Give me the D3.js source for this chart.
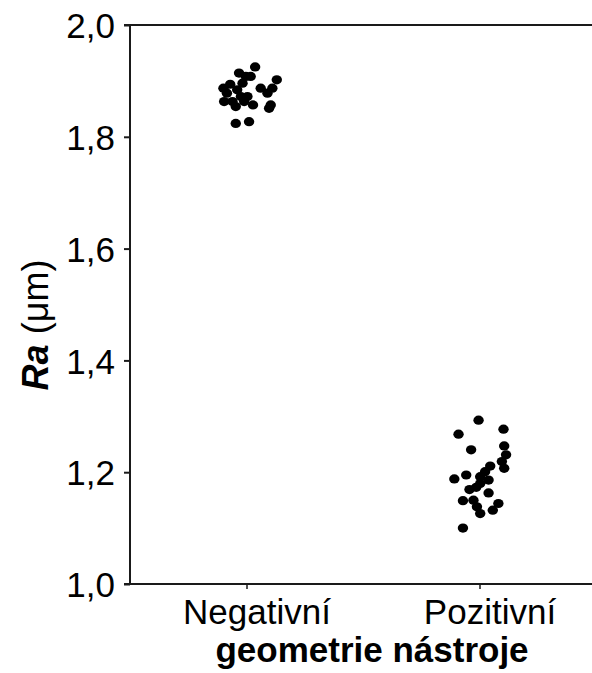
<!DOCTYPE html>
<html><head><meta charset="utf-8">
<script src="https://cdn.jsdelivr.net/npm/d3@7"></script>
<style>body{margin:0;background:#fff}svg{display:block}</style>
</head><body>
<svg id="c" width="592" height="673"></svg>
<script>
const categories = ["Negativní", "Pozitivní"];
const yTicks = [1.0, 1.2, 1.4, 1.6, 1.8, 2.0];
const negValues = [1.925,1.914,1.908,1.908,1.902,1.896,1.894,1.887,1.887,1.887,1.878,1.878,1.872,1.872,1.863,1.863,1.863,1.857,1.857,1.854,1.851,1.824,1.827,1.884];
const negJitter = [0.037,-0.032,-0.003,0.018,0.130,-0.017,-0.070,-0.099,0.061,0.111,-0.084,0.090,-0.024,0.004,-0.096,-0.060,-0.010,0.028,0.104,-0.046,0.097,-0.046,0.011,-0.040];
const posValues = [1.293,1.268,1.277,1.240,1.247,1.231,1.219,1.207,1.211,1.201,1.195,1.188,1.192,1.186,1.180,1.173,1.169,1.163,1.149,1.150,1.144,1.138,1.126,1.132,1.100];
const posJitter = [-0.004,-0.090,0.103,-0.036,0.106,0.114,0.096,0.106,0.046,0.024,-0.057,-0.108,0.003,0.039,0.003,-0.014,-0.043,0.039,-0.071,-0.026,0.081,-0.011,0.003,0.057,-0.071];

const svg = d3.select("#c");
const x0 = 130, x1 = 596, yTop = 25, yBot = 584;
const x = d3.scalePoint().domain(categories).range([x0, x1]).padding(0.5);
const y = d3.scaleLinear().domain([1, 2]).range([yBot, yTop]);
const step = x.step();
const font = "'Liberation Sans', Arial, sans-serif";
const ink = "#1a1a1a";

// Y axis
const ya = svg.append("g").attr("transform", `translate(${x0},0)`)
  .call(d3.axisLeft(y).tickValues(yTicks).tickSize(6).tickPadding(9)
    .tickFormat(d => d3.format(".1f")(d).replace(".", ",")));
ya.select(".domain").attr("stroke", ink).attr("stroke-width", 2).attr("d", `M-6,${yTop}H0V${yBot}H-6`);
ya.selectAll(".tick line").attr("stroke", ink).attr("stroke-width", 2);
ya.selectAll(".tick text").attr("font-family", font).attr("font-size", 35).attr("fill", "#000").attr("dy", "0.36em");

// X axis
const xa = svg.append("g").attr("transform", `translate(0,${yBot})`)
  .call(d3.axisBottom(x).tickSize(5).tickPadding(10));
xa.select(".domain").attr("stroke", ink).attr("stroke-width", 2).attr("d", `M${x0},0H${x1}`);
xa.selectAll(".tick line").attr("stroke", ink).attr("stroke-width", 1.5);
xa.selectAll(".tick text").attr("font-family", font).attr("font-size", 35).attr("fill", "#000")
  .attr("dx", 10).attr("dy", "0.72em");

// top border
svg.append("line").attr("x1", x0).attr("x2", x1).attr("y1", yTop).attr("y2", yTop)
  .attr("stroke", ink).attr("stroke-width", 2);

// points
function pts(cat, vals, jit) {
  svg.append("g").selectAll("ellipse").data(vals).join("ellipse")
    .attr("cx", (d, i) => x(cat) + jit[i] * step)
    .attr("cy", d => y(d))
    .attr("rx", 5.2).attr("ry", 4.6).attr("fill", "#000");
}
pts(categories[0], negValues, negJitter);
pts(categories[1], posValues, posJitter);

// axis titles
svg.append("text").attr("x", 372).attr("y", 662).attr("text-anchor", "middle")
  .attr("font-family", font).attr("font-size", 35).attr("font-weight", "bold").text("geometrie nástroje");

const yt = svg.append("text").attr("transform", "translate(48,325) rotate(-90)")
  .attr("text-anchor", "middle").attr("font-family", font).attr("font-size", 36);
yt.append("tspan").attr("font-weight", "bold").attr("font-style", "italic").text("Ra");
yt.append("tspan").text(" (μm)");
</script>
</body></html>
